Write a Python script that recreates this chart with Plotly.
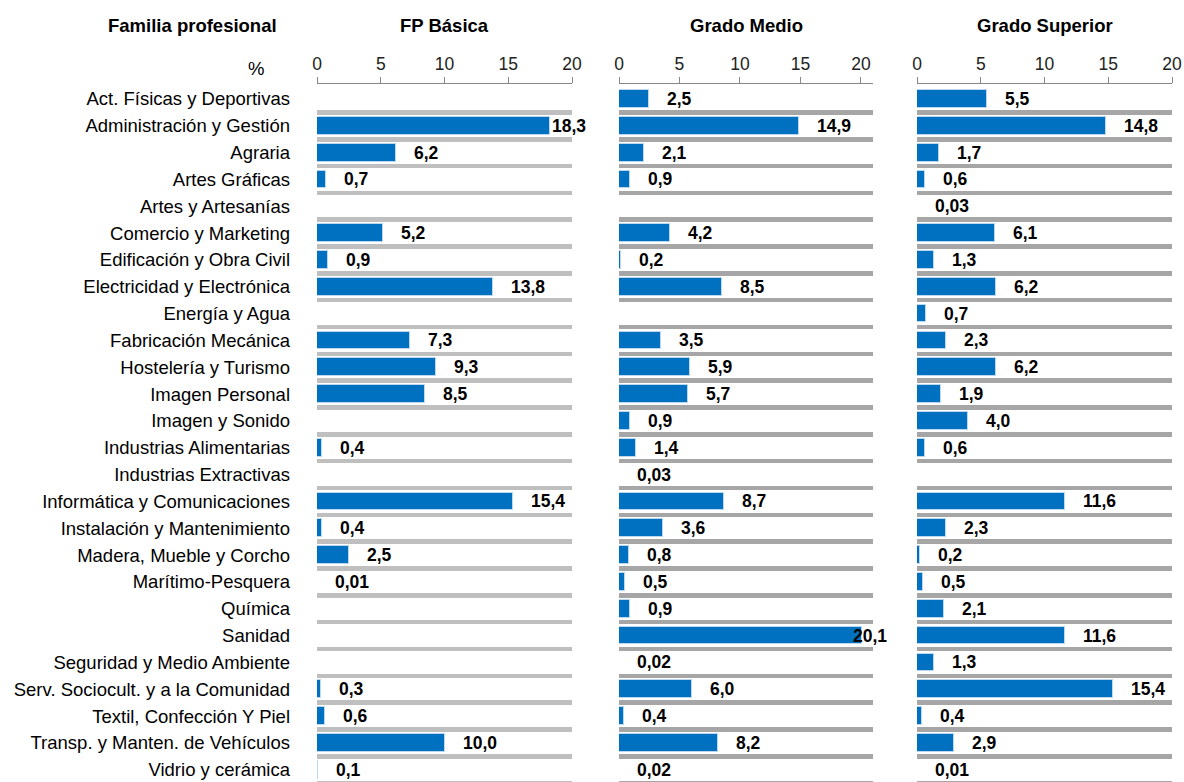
import plotly.graph_objects as go

categories = [
    "Act. Físicas y Deportivas", "Administración y Gestión", "Agraria", "Artes Gráficas",
    "Artes y Artesanías", "Comercio y Marketing", "Edificación y Obra Civil",
    "Electricidad y Electrónica", "Energía y Agua", "Fabricación Mecánica",
    "Hostelería y Turismo", "Imagen Personal", "Imagen y Sonido", "Industrias Alimentarias",
    "Industrias Extractivas", "Informática y Comunicaciones", "Instalación y Mantenimiento",
    "Madera, Mueble y Corcho", "Marítimo-Pesquera", "Química", "Sanidad",
    "Seguridad y Medio Ambiente", "Serv. Sociocult. y a la Comunidad",
    "Textil, Confección Y Piel", "Transp. y Manten. de Vehículos", "Vidrio y cerámica",
]

fp_basica = [None, 18.3, 6.2, 0.7, None, 5.2, 0.9, 13.8, None, 7.3, 9.3, 8.5, None, 0.4,
             None, 15.4, 0.4, 2.5, 0.01, None, None, None, 0.3, 0.6, 10.0, 0.1]
grado_medio = [2.5, 14.9, 2.1, 0.9, None, 4.2, 0.2, 8.5, None, 3.5, 5.9, 5.7, 0.9, 1.4,
               0.03, 8.7, 3.6, 0.8, 0.5, 0.9, 20.1, 0.02, 6.0, 0.4, 8.2, 0.02]
grado_superior = [5.5, 14.8, 1.7, 0.6, 0.03, 6.1, 1.3, 6.2, 0.7, 2.3, 6.2, 1.9, 4.0, 0.6,
                  None, 11.6, 2.3, 0.2, 0.5, 2.1, 11.6, 1.3, 15.4, 0.4, 2.9, 0.01]

panel_titles = ["FP Básica", "Grado Medio", "Grado Superior"]
tick_values = [0, 5, 10, 15, 20]
header_label = "Familia profesional"
unit_label = "%"

# ---- layout / styling ----
W, H = 1184, 782
TOP = 84                      # plot-area top (axis line)
ROW = 26.83                   # px per category row
FONT = "Liberation Sans, Arial, sans-serif"
BLUE = "#0070C0"


def px_x(X):
    return X / W


def px_y(Y):
    return (H - Y) / (H - TOP)


panels = [
    dict(values=fp_basica, xref="x", dom=(317, 572), rmax=20, sep="#BFBFBF"),
    dict(values=grado_medio, xref="x2", dom=(619, 873), rmax=21, sep="#A6A6A6"),
    dict(values=grado_superior, xref="x3", dom=(917, 1172), rmax=20, sep="#A6A6A6"),
]

y_top = -15.0 / ROW
y_bot = y_top + (H - TOP) / ROW
idx = list(range(len(categories)))


def fmt(v):
    s = f"{v:.2f}" if v < 0.1 else f"{v:.1f}"
    return s.replace(".", ",")


fig = go.Figure()
annotations = []
layout_axes = {}
LBL = 17.5
for k, p in enumerate(panels):
    xa = p["xref"]
    # separator bands between rows
    fig.add_trace(go.Bar(
        x=[p["rmax"]] * len(categories), y=[i + 0.5 for i in idx], base=0,
        width=4.5 / ROW, orientation="h", marker=dict(color=p["sep"], line=dict(width=0)),
        xaxis=xa, yaxis="y", hoverinfo="skip", showlegend=False,
    ))
    fig.add_trace(go.Bar(
        x=p["values"], y=idx, width=17.7 / ROW, orientation="h",
        marker=dict(color=BLUE, line=dict(color="#BDD7EE", width=1)),
        xaxis=xa, yaxis="y", showlegend=False, name=panel_titles[k],
    ))
    px_per = (p["dom"][1] - p["dom"][0]) / p["rmax"]
    for i, v in enumerate(p["values"]):
        if v is None:
            continue
        txt = fmt(v)
        tw = 0.556 * LBL * sum(1 for c in txt if c.isdigit()) + 0.278 * LBL
        vx = min(v, p["rmax"]) * px_per
        clamp = vx + tw > (p["dom"][1] - p["dom"][0])
        annotations.append(dict(
            x=p["rmax"] if clamp else v, y=i, xref=xa, yref="y", text=f"<b>{txt}</b>",
            showarrow=False, xanchor="right" if clamp else "left", xshift=16, yshift=0,
            font=dict(family=FONT, size=LBL, color="black")))
    name = "xaxis" if k == 0 else f"xaxis{k+1}"
    layout_axes[name] = dict(
        domain=[px_x(p["dom"][0]), px_x(p["dom"][1])], range=[0, p["rmax"]], side="top",
        anchor="y", tickmode="array", tickvals=tick_values, ticks="outside", ticklen=6,
        tickcolor="#868686", showline=True, linecolor="#868686", linewidth=1,
        showgrid=False, zeroline=False, fixedrange=True,
        tickfont=dict(family=FONT, size=17.5, color="#222222"),
    )
    cx = (p["dom"][0] + p["dom"][1]) / 2
    annotations.append(dict(x=px_x(cx), y=px_y(25), xref="paper", yref="paper",
                            xanchor="center", yanchor="middle",
                            text=f"<b>{panel_titles[k]}</b>", showarrow=False,
                            font=dict(family=FONT, size=18.5, color="black")))

annotations.append(dict(x=px_x(192), y=px_y(25), xref="paper", yref="paper",
                        xanchor="center", yanchor="middle",
                        text=f"<b>{header_label}</b>", showarrow=False,
                        font=dict(family=FONT, size=18.5, color="black")))
annotations.append(dict(x=px_x(256), y=px_y(68), xref="paper", yref="paper",
                        xanchor="center", yanchor="middle",
                        text=unit_label, showarrow=False,
                        font=dict(family=FONT, size=18.5, color="black")))

fig.update_layout(
    width=W, height=H, margin=dict(l=0, r=0, t=TOP, b=0, autoexpand=False),
    paper_bgcolor="white", plot_bgcolor="white", barmode="overlay", bargap=0,
    showlegend=False, annotations=annotations,
    yaxis=dict(domain=[0, 1], range=[y_bot, y_top], anchor="x", tickmode="array",
               tickvals=idx, ticktext=categories, ticks="", showline=False, showgrid=False,
               zeroline=False, automargin=False, ticklabelstandoff=26,
               tickfont=dict(family=FONT, size=18.5, color="black"), fixedrange=True),
    **layout_axes,
)

fig.write_html("out.html", config={"displayModeBar": False},
               post_script="document.body.style.margin='0';document.body.style.overflow='hidden';")
